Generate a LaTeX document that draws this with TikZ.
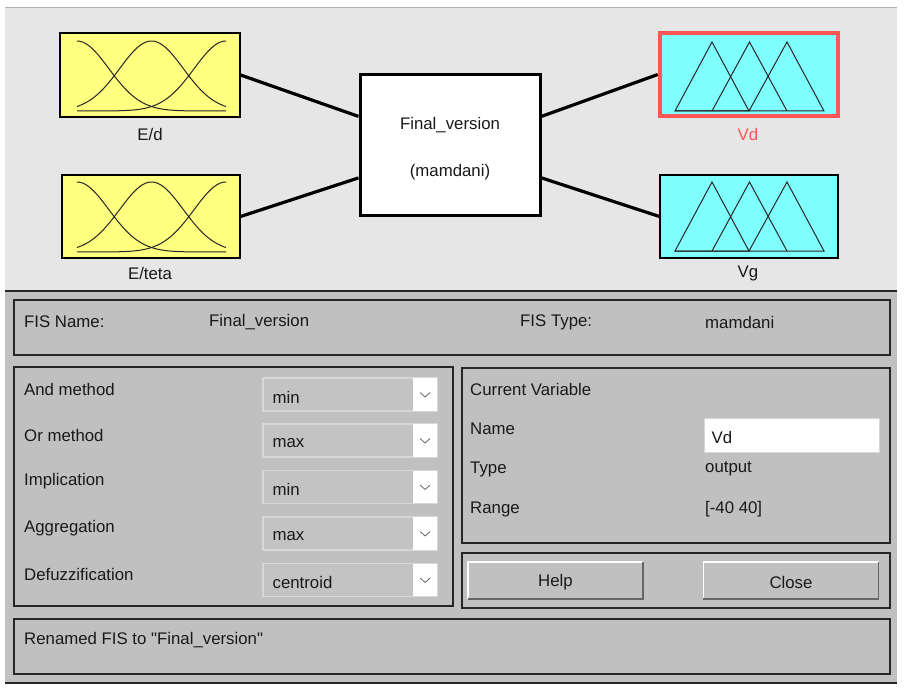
\documentclass[tikz,border=0pt]{standalone}
\usepackage{fontspec}
\setmainfont{Liberation Sans}[Ligatures=TeXOff]
\usetikzlibrary{calc}
\definecolor{topbg}{RGB}{230,230,230}
\definecolor{guibg}{RGB}{192,192,192}
\definecolor{mfyellow}{RGB}{255,255,128}
\definecolor{mfcyan}{RGB}{128,255,255}
\definecolor{selred}{RGB}{255,85,85}
\definecolor{txtc}{RGB}{25,25,25}
\definecolor{ddborder}{RGB}{215,215,215}
\begin{document}
\begin{tikzpicture}[x=1pt,y=-1pt,
  lbl/.style={font=\fontsize{16.8}{20}\selectfont, text=txtc, inner sep=0pt},
  txt/.style={lbl, anchor=west},
  mfin/.style={draw=black, line width=1.2pt, fill=mfyellow, minimum width=180pt, minimum height=84pt, inner sep=0pt},
  mfout/.style={draw=black, line width=1.2pt, fill=mfcyan, minimum width=180pt, minimum height=84pt, inner sep=0pt},
  link/.style={line width=3.2pt, black},
  curve/.style={line width=1pt, black!85},
  panel/.style={draw=black!85, line width=1.8pt},
  dd/.style={draw=ddborder, line width=1.2pt, fill=guibg!95!white, minimum width=174pt, minimum height=33pt, inner sep=0pt},
  btn/.style={fill=guibg, minimum width=175pt, minimum height=37pt, inner sep=0pt}
]
\useasboundingbox (0,0) rectangle (905,690);
\fill[white] (0,0) rectangle (905,690);
% backgrounds
\fill[topbg] (5,8) rectangle (897,291);
\draw[black!30, line width=1pt] (5,8) -- (897,8);
\fill[guibg] (5,291) rectangle (897,683);
\draw[black!85, line width=2pt] (5,291) -- (897,291);
\draw[black!85, line width=2pt] (5,683) -- (897,683);

% input MF boxes
\node[mfin] (ed) at (150,75) {};
\node[lbl] (edl) at (150,134) {E/d};
\node[mfin, minimum width=178pt, minimum height=83pt] (et) at (151,216.5) {};
\node[lbl] (etl) at (150,273) {E/teta};
\foreach \yb/\yp in {111/41, 252/182}{
  \draw[curve] plot[domain=77:226, samples=60] (\x, {\yb - (\yb-\yp)*exp(-0.5*((\x-77)/31.8)^2)});
  \draw[curve] plot[domain=77:226, samples=60] (\x, {\yb - (\yb-\yp)*exp(-0.5*((\x-151.5)/31.8)^2)});
  \draw[curve] plot[domain=77:226, samples=60] (\x, {\yb - (\yb-\yp)*exp(-0.5*((\x-226)/31.8)^2)});
}

% FIS box
\node[draw=black, line width=3pt, fill=white, minimum width=180pt, minimum height=140pt] (fis) at (450,145) {};
\node[lbl] (fisname) at ($(fis.center)+(0,-20)$) {Final\_version};
\node[lbl] (fistype) at ($(fis.center)+(0,27)$) {(mamdani)};

% output MF boxes
\node[mfout, draw=selred, line width=4.5pt, minimum width=178pt, minimum height=83pt] (vd) at (749,74.5) {};
\node[lbl, text=selred] (vdl) at (748,134) {Vd};
\node[mfout, minimum width=178pt, minimum height=83pt] (vg) at (749,216.5) {};
\node[lbl] (vgl) at (748,273) {Vg};
\foreach \yb/\yp in {111/42, 251/182}{
  \draw[curve] (675,\yb) -- (712,\yp) -- (749,\yb) -- cycle;
  \draw[curve] (712,\yb) -- (749.5,\yp) -- (787,\yb);
  \draw[curve] (749,\yb) -- (787,\yp) -- (824,\yb) -- (675,\yb);
}

% connectors
\draw[link] (ed.east) -- ($(fis.north west)!0.3!(fis.south west)$);
\draw[link] (et.east) -- ($(fis.north west)!0.73!(fis.south west)$);
\draw[link] ($(fis.north east)!0.3!(fis.south east)$) -- (vd.west);
\draw[link] ($(fis.north east)!0.73!(fis.south east)$) -- (vg.west);

% FIS name panel
\draw[panel] (14,300) rectangle (890,355);
\node[txt] (fisn) at (24,322) {FIS Name:};
\node[txt] (fisnv) at (209,322) {Final\_version};
\node[txt] (fist) at (520,322) {FIS Type:};
\node[txt] (fistv) at (705,322) {mamdani};

% methods panel
\draw[panel] (14,367) rectangle (453,606);
\foreach \n/\lab/\val/\y in {1/And method/min/394.5, 2/Or method/max/440.5, 3/Implication/min/487, 4/Aggregation/max/533.5, 5/Defuzzification/centroid/580}{
  \node[txt] (m\n) at (24,\y-5.5) {\lab};
  \node[dd] (dd\n) at (350,\y) {};
  \fill[white] ($(dd\n.north east)+(-25,1)$) rectangle ($(dd\n.south east)+(-1,-1)$);
  \draw[black!60, line width=0.8pt] ($(dd\n.east)+(-17.5,-2)$) -- ($(dd\n.east)+(-12.5,2.5)$) -- ($(dd\n.east)+(-7.5,-2)$);
  \node[txt] (v\n) at ($(dd\n.west)+(10,2.5)$) {\val};
}

% current variable panel
\draw[panel] (462,368) rectangle (890,543);
\node[txt] (cv) at (470,389) {Current Variable};
\node[txt] (nm) at (470,429) {Name};
\node[draw=ddborder, line width=1pt, fill=white, minimum width=175pt, minimum height=34pt, inner sep=0pt] (namebox) at (791.5,435) {};
\node[txt] (nmv) at ($(namebox.west)+(8,2)$) {Vd};
\node[txt] (ty) at (470,469) {Type};
\node[txt] (tyv) at (705,469) {output};
\node[txt] (rg) at (470,509) {Range};
\node[txt] (rgv) at (705,509) {[-40 40]};

% buttons panel
\draw[panel] (462,553) rectangle (890,608);
\foreach \b/\lab/\x in {help/Help/555.5, close/Close/791}{
  \node[btn] (\b) at (\x,580.5) {};
  \draw[white, line width=1.5pt] (\b.south west) -- (\b.north west) -- (\b.north east);
  \draw[black!60, line width=1.5pt] (\b.north east) -- (\b.south east) -- (\b.south west);
  \node[lbl] (\b t) at ($(\b.center)+(0,2)$) {\lab};
}

% status panel
\draw[panel] (14,619) rectangle (890,674);
\node[txt] (status) at (24,640) {Renamed FIS to "Final\_version"};
\end{tikzpicture}
\end{document}
